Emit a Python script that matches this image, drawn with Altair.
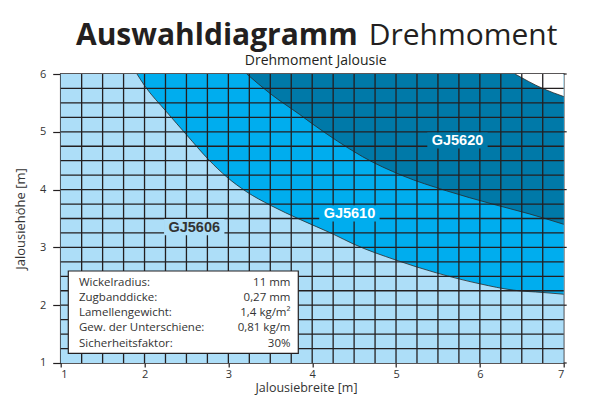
import altair as alt
import pandas as pd

# ---- colours
LIGHT = "#ADDEF8"
MID = "#00ADEE"
DARK = "#0079A8"
INK = "#231F20"
TXT = "#333333"

# ---- boundary curves
b1_x = [1.91, 2.0, 2.26, 2.50, 2.77, 2.98, 3.22, 3.50, 3.86, 4.25, 4.49, 5.0, 5.48, 6.0, 6.40, 6.75, 7.0]
b1_y = [6.0, 5.80, 5.35, 4.95, 4.51, 4.22, 3.96, 3.73, 3.48, 3.23, 3.06, 2.78, 2.56, 2.37, 2.26, 2.22, 2.19]

b2_x = [3.22, 3.50, 3.85, 4.0, 4.30, 4.60, 5.08, 5.60, 6.15, 6.59, 7.0]
b2_y = [6.0, 5.66, 5.30, 5.14, 4.84, 4.57, 4.24, 3.98, 3.75, 3.58, 3.40]

b3_x = [6.42, 6.75, 7.0]
b3_y = [6.0, 5.75, 5.61]

# ---- region labels
lab_text = ["GJ5606", "GJ5610", "GJ5620"]
lab_x = [2.593, 4.444, 5.733]
lab_y = [3.35, 3.59, 4.85]
lab_fg = [TXT, "#FFFFFF", "#FFFFFF"]
lab_bg = [LIGHT, MID, DARK]

# ---- axis ticks
x_ticks = [1, 2, 3, 4, 5, 6, 7]
y_ticks = [1, 2, 3, 4, 5, 6]
grid_x = [1 + 0.25 * i for i in range(1, 24)]
grid_y = [1 + 0.25 * i for i in range(1, 20)]

# ---- info box
info_labels = ["Wickelradius:", "Zugbanddicke:", "Lamellengewicht:", "Gew. der Unterschiene:", "Sicherheitsfaktor:"]
info_values = ["11 mm", "0,27 mm", "1,4 kg/m²", "0,81 kg/m", "30%"]

title_bold = "Auswahldiagramm"
title_reg = "Drehmoment"
subtitle = "Drehmoment Jalousie"
x_title = "Jalousiebreite [m]"
y_title = "Jalousiehöhe [m]"

FONT = "Open Sans"
W, H = 503, 289

xs = alt.Scale(domain=[1, 7], nice=False, zero=False)
ys = alt.Scale(domain=[1, 6], nice=False, zero=False)
xaxis = alt.Axis(values=x_ticks, title=None, grid=False, domain=False, tickSize=4,
                 tickColor=INK, tickWidth=1.2, labelPadding=2, labelFont=FONT,
                 labelFontSize=11, labelColor=TXT)
yaxis = alt.Axis(values=y_ticks, title=None, grid=False, domain=False, tickSize=8,
                 tickColor=INK, tickWidth=1.2, labelPadding=7, labelFont=FONT,
                 labelFontSize=11, labelColor=TXT)


def X(f):
    return alt.X(f, type="quantitative", scale=xs, axis=xaxis)


def Y(f):
    return alt.Y(f, type="quantitative", scale=ys, axis=yaxis)


def region(xv, yv, color):
    df = pd.DataFrame({"x": xv, "y": yv, "top": [6.0] * len(xv)})
    base = alt.Chart(df)
    a = base.mark_area(color=color, opacity=1, interpolate="monotone").encode(
        x=X("x"), y=Y("y"), y2="top:Q")
    l = base.mark_line(color="#2a2a2a", strokeWidth=0.8, interpolate="monotone").encode(
        x=X("x"), y=Y("y"))
    return [a, l]


one = pd.DataFrame({"a": [0]})
layers = []
# light background of the plot area
layers.append(alt.Chart(one).mark_rect(fill=LIGHT).encode(
    x=alt.value(0), x2=alt.value(W), y=alt.value(0), y2=alt.value(H)))
layers += region(b1_x, b1_y, MID)
layers += region(b2_x, b2_y, DARK)
layers += region(b3_x, b3_y, "#FFFFFF")

# grid
layers.append(alt.Chart(pd.DataFrame({"g": grid_x})).mark_rule(color=INK, strokeWidth=1.3).encode(x=X("g")))
layers.append(alt.Chart(pd.DataFrame({"g": grid_y})).mark_rule(color=INK, strokeWidth=1.3).encode(y=Y("g")))

# right side ticks
layers.append(alt.Chart(pd.DataFrame({"t": y_ticks})).mark_rule(color=INK, strokeWidth=1.2).encode(
    y=Y("t"), x=alt.value(W), x2=alt.value(W + 3)))

# region labels with masks
lab_df = pd.DataFrame({"t": lab_text, "x": lab_x, "y": lab_y, "fg": lab_fg, "bg": lab_bg})
lab = alt.Chart(lab_df)
layers.append(lab.transform_calculate(
    x0="datum.x - 0.36", x1="datum.x + 0.36", y0="datum.y - 0.14", y1="datum.y + 0.14"
).mark_rect().encode(x=X("x0"), x2="x1:Q", y=Y("y0"), y2="y1:Q",
                     color=alt.Color("bg:N", scale=None)))
layers.append(lab.mark_text(font="Liberation Sans", fontWeight="bold", fontSize=14.5,
                            baseline="alphabetic", dy=5).encode(
    x=X("x"), y=Y("y"), text="t:N", color=alt.Color("fg:N", scale=None)))

# info box
layers.append(alt.Chart(one).mark_rect(fill="#FFFFFF", stroke=INK, strokeWidth=1.2).encode(
    x=alt.value(7.6), x2=alt.value(237.6), y=alt.value(197), y2=alt.value(279.3)))
for i, (lt, vt) in enumerate(zip(info_labels, info_values)):
    yy = 208.6 + i * 15.3
    layers.append(alt.Chart(one).mark_text(text=lt, align="left", baseline="middle", font=FONT,
                                           fontSize=11.5, color=TXT).encode(
        x=alt.value(18.3), y=alt.value(yy)))
    layers.append(alt.Chart(one).mark_text(text=vt, align="right", baseline="middle", font=FONT,
                                           fontSize=11.5, color=TXT).encode(
        x=alt.value(229.8), y=alt.value(yy)))

# titles
layers.append(alt.Chart(one).mark_text(text=title_bold, align="right", baseline="alphabetic", font=FONT,
                                       fontWeight="bold", fontSize=30, color=INK).encode(
    x=alt.value(297), y=alt.value(-29.5)))
layers.append(alt.Chart(one).mark_text(text=title_reg, align="left", baseline="alphabetic", font=FONT,
                                       fontSize=30, color=INK).encode(
    x=alt.value(308), y=alt.value(-29.5)))
layers.append(alt.Chart(one).mark_text(text=subtitle, align="center", baseline="alphabetic", font=FONT,
                                       fontSize=14, color=INK).encode(
    x=alt.value(255), y=alt.value(-9.5)))
layers.append(alt.Chart(one).mark_text(text=x_title, align="center", baseline="alphabetic", font=FONT,
                                       fontSize=12.5, color=TXT).encode(
    x=alt.value(245.8), y=alt.value(318)))
layers.append(alt.Chart(one).mark_text(text=y_title, align="center", baseline="alphabetic", font=FONT,
                                       fontSize=13, color=TXT, angle=270).encode(
    x=alt.value(-35.7), y=alt.value(145)))

chart = alt.layer(*layers).properties(
    width=W, height=H,
    autosize=alt.AutoSizeParams(type="none"),
    padding={"left": 52.7, "top": 66, "right": 17, "bottom": 33},
).configure_view(stroke=INK, strokeWidth=1.5)

chart.save("out.html", embed_options={"renderer": "svg", "actions": False})
